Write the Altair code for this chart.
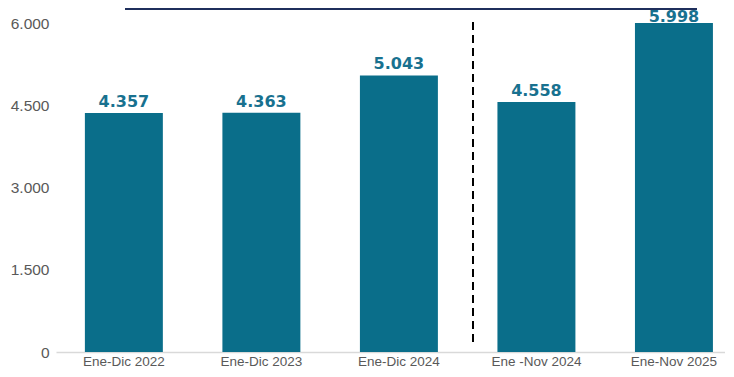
import altair as alt
import pandas as pd

categories = ["Ene-Dic 2022", "Ene-Dic 2023", "Ene-Dic 2024", "Ene -Nov 2024", "Ene-Nov 2025"]
values = [4357, 4363, 5043, 4558, 5998]
value_labels = ["4.357", "4.363", "5.043", "4.558", "5.998"]
y_ticks = [0, 1500, 3000, 4500, 6000]

df = pd.DataFrame({"cat": categories, "val": values, "lab": value_labels})

BAR = "#0a6e8a"
LAB = "#18718f"

x_enc = alt.X("cat:N", sort=categories, title=None,
              scale=alt.Scale(paddingInner=0.433, paddingOuter=0.178, align=0.59),
              axis=alt.Axis(labelAngle=0, labelFont="Liberation Sans", labelFontSize=13.5,
                            labelColor="#595959", ticks=False, domainColor="#d9d9d9",
                            domainWidth=1.5, labelPadding=2))
y_enc = alt.Y("val:Q", title=None,
              scale=alt.Scale(domain=[0, 6000], nice=False),
              axis=alt.Axis(values=y_ticks, grid=False, domain=False, ticks=False,
                            labelFont="Liberation Sans", labelFontSize=15.5,
                            labelColor="#595959", labelPadding=7,
                            labelExpr="replace(format(datum.value, ','), ',', '.')"))

base = alt.Chart(df)
bars = base.mark_bar(color=BAR).encode(x=x_enc, y=y_enc)
text = base.transform_calculate(ly="min(datum.val, 5914)").mark_text(
    font="DejaVu Sans", fontWeight="bold", fontSize=16, color=LAB,
    baseline="alphabetic", dy=-6).encode(
    x=alt.X("cat:N", sort=categories), y="ly:Q", text="lab:N")

dash = alt.Chart(df.head(1)).mark_rule(color="black", strokeWidth=2, strokeDash=[8, 5]).encode(
    x=alt.value(417), y=alt.value(-1), y2=alt.value(324))
topline = alt.Chart(df.head(1)).mark_rule(color="#1f2f5c", strokeWidth=2).encode(
    x=alt.value(69), x2=alt.value(641), y=alt.value(-14))

chart = alt.layer(bars, text, dash, topline).properties(
    width=677, height=329,
    autosize=alt.AutoSizeParams(type="none"),
    padding={"left": 48, "top": 15, "right": -8, "bottom": 17},
).configure_view(stroke=None)

chart.save("out.html", embed_options={"renderer": "svg", "actions": False})
